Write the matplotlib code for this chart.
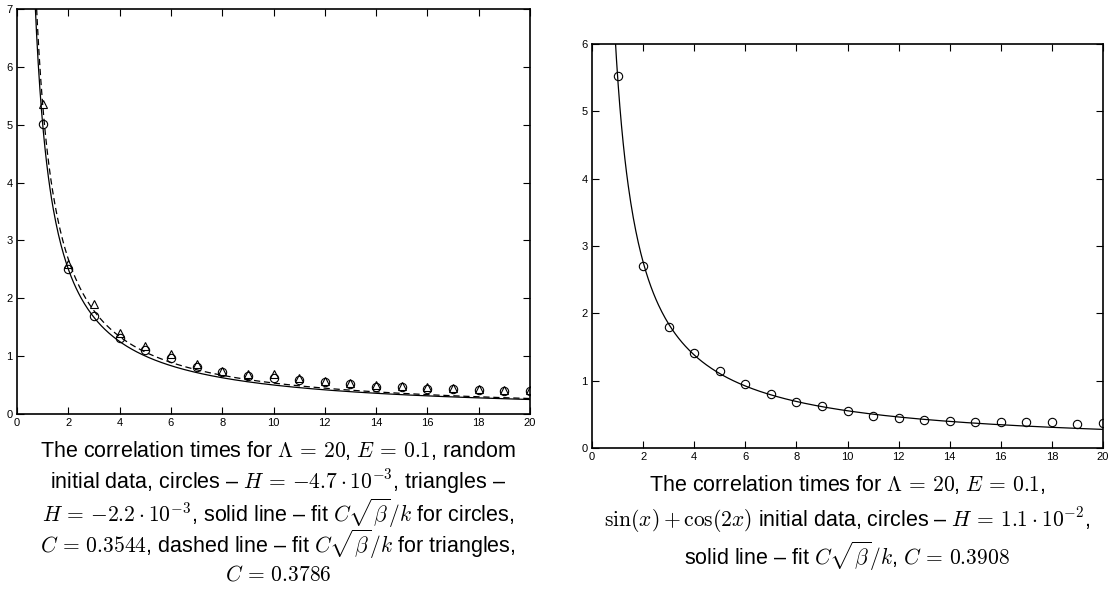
import numpy as np
import matplotlib
matplotlib.use("Agg")
import matplotlib.pyplot as plt

plt.rcParams["font.family"] = ["Liberation Sans", "DejaVu Sans"]
plt.rcParams["mathtext.fontset"] = "cm"

# left panel: random initial data
k = np.arange(1, 21)
circles_left = [5.02, 2.50, 1.70, 1.31, 1.11, 0.97, 0.82, 0.73, 0.65, 0.63,
                0.58, 0.55, 0.51, 0.47, 0.46, 0.44, 0.43, 0.42, 0.40, 0.40]
triangles_left = [5.35, 2.60, 1.90, 1.40, 1.17, 1.03, 0.87, 0.75, 0.70, 0.69,
                  0.63, 0.57, 0.54, 0.50, 0.48, 0.46, 0.45, 0.44, 0.42, 0.42]
# right panel: sin(x)+cos(2x) initial data
circles_right = [5.53, 2.71, 1.80, 1.41, 1.15, 0.95, 0.80, 0.69, 0.62, 0.55,
                 0.48, 0.44, 0.42, 0.40, 0.39, 0.38, 0.38, 0.38, 0.35, 0.37]

# fit C*sqrt(beta)/k, beta = Lambda/E
beta = 20 / 0.1
C_circ_left = 0.3544
C_tri_left = 0.3786
C_right = 0.3908

LEFT_CAPTION = [
    r"The correlation times for $\Lambda\,=\,20$, $E\,=\,0.1$, random",
    r"initial data, circles – $H\,=\,{-}4.7\cdot10^{-3}$, triangles –",
    r"$H\,=\,{-}2.2\cdot10^{-3}$, solid line – fit $C\sqrt{\beta}/k$ for circles,",
    r"$C\,=\,0.3544$, dashed line – fit $C\sqrt{\beta}/k$ for triangles,",
    r"$C\,=\,0.3786$",
]
RIGHT_CAPTION = [
    r"The correlation times for $\Lambda\,=\,20$, $E\,=\,0.1$,",
    r"$\sin(x)+\cos(2x)$ initial data, circles – $H\,=\,1.1\cdot10^{-2}$,",
    r"solid line – fit $C\sqrt{\beta}/k$, $C\,=\,0.3908$",
]

W, H = 1112, 606
fig = plt.figure(figsize=(W / 100, H / 100), dpi=100)


def px_axes(x0, y0, x1, y1):
    return fig.add_axes([x0 / W, 1 - y1 / H, (x1 - x0) / W, (y1 - y0) / H])


def style(ax, ymax):
    ax.set_xlim(0, 20)
    ax.set_ylim(0, ymax)
    ax.set_xticks(range(0, 21, 2))
    ax.set_yticks(range(0, ymax + 1))
    ax.tick_params(direction="in", top=True, right=True, length=5,
                   width=0.8, labelsize=8, pad=3)
    for s in ax.spines.values():
        s.set_linewidth(1.2)


kk = np.linspace(0.3, 20, 600)
mk = dict(markersize=6, markerfacecolor="none", markeredgecolor="black",
          markeredgewidth=0.8, linestyle="none")

ax1 = px_axes(17, 9, 530, 414)
ax1.plot(kk, C_circ_left * np.sqrt(beta) / kk, color="black", lw=0.9)
ax1.plot(kk, C_tri_left * np.sqrt(beta) / kk, color="black", lw=0.9,
         dashes=(5, 3))
ax1.plot(k, circles_left, marker="o", **mk)
ax1.plot(k, triangles_left, marker="^", **mk)
style(ax1, 7)

ax2 = px_axes(592, 44, 1103, 448)
ax2.plot(kk, C_right * np.sqrt(beta) / kk, color="black", lw=0.9)
ax2.plot(k, circles_right, marker="o", **mk)
style(ax2, 6)

for i, line in enumerate(LEFT_CAPTION):
    fig.text(278 / W, 1 - (451 + 31 * i) / H, line, ha="center", va="center",
             fontsize=15.5)
for i, line in enumerate(RIGHT_CAPTION):
    fig.text(847 / W, 1 - (484 + 36 * i) / H, line, ha="center", va="center",
             fontsize=15.5)

fig.savefig("out.png", dpi=100)
